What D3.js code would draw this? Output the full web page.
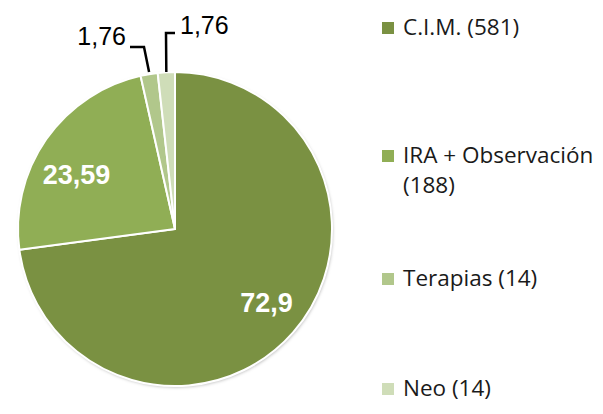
<!DOCTYPE html>
<html><head><meta charset="utf-8">
<script src="https://cdn.jsdelivr.net/npm/d3@7"></script>
<style>body{margin:0;background:#fff}svg{display:block}</style>
</head><body>
<svg id="c" width="603" height="414"></svg>
<script>
const categories = ["C.I.M. (581)", "IRA + Observación (188)", "Terapias (14)", "Neo (14)"];
const legendLines = [["C.I.M. (581)"], ["IRA + Observación", "(188)"], ["Terapias (14)"], ["Neo (14)"]];
const values = [72.9, 23.59, 1.76, 1.76];
const valueLabels = ["72,9", "23,59", "1,76", "1,76"];
const colors = ["#7a9142", "#90ae55", "#b1c78b", "#cfddb8"];

const svg = d3.select("#c");
const cx = 175, cy = 229, r = 157;
const pie = d3.pie().sort(null).value(d => d)(values);
const arc = d3.arc().innerRadius(0).outerRadius(r);

const defs = svg.append("defs");
const f = defs.append("filter").attr("id","sh").attr("x","-10%").attr("y","-10%").attr("width","120%").attr("height","120%");
f.append("feDropShadow").attr("dx",1).attr("dy",1.5).attr("stdDeviation",1.5).attr("flood-color","#000").attr("flood-opacity",0.25);

const g = svg.append("g").attr("transform", `translate(${cx},${cy})`);
g.append("circle").attr("r", r).attr("fill","#fff").attr("filter","url(#sh)");
g.selectAll("path.s").data(pie).join("path").attr("class","s")
  .attr("d", arc).attr("fill", (d,i) => colors[i])
  .attr("stroke","#fff").attr("stroke-width",2).attr("stroke-linejoin","round");

// inside labels
const inPos = [[91.5, 83], [-98.5, -45]];
[0,1].forEach(i => {
  g.append("text").attr("x", inPos[i][0]).attr("y", inPos[i][1])
    .attr("text-anchor","middle").attr("font-family","Liberation Sans, Arial, sans-serif")
    .attr("font-weight","bold").attr("font-size",27).attr("fill","#fff").text(valueLabels[i]);
});

// outside labels with leader lines
const outArc = d3.arc().innerRadius(r).outerRadius(r);
const small = [
  {i:2, elbow:[-31,-182], end:[-45,-182], tx:[-49,-184], anchor:"end"},
  {i:3, elbow:[-9,-196], end:[0,-196], tx:[5,-195], anchor:"start"}
];
small.forEach(s => {
  const p = outArc.centroid(pie[s.i]);
  g.append("path").attr("d", d3.line()([[p[0], -r], s.elbow, s.end]))
    .attr("fill","none").attr("stroke","#000").attr("stroke-width",2.5);
  g.append("text").attr("x", s.tx[0]).attr("y", s.tx[1]).attr("text-anchor", s.anchor)
    .attr("font-family","Liberation Sans, Arial, sans-serif").attr("font-size",25)
    .attr("fill","#000").text(valueLabels[s.i]);
});

// legend
const legendRowY = [28, 156, 279, 389];
const lg = svg.append("g").attr("transform","translate(382,0)");
categories.forEach((c,i) => {
  const row = lg.append("g").attr("transform", `translate(0,${legendRowY[i]})`);
  row.append("rect").attr("x",0).attr("y",-6).attr("width",12).attr("height",12).attr("fill",colors[i]);
  const t = row.append("text").attr("x",21).attr("y",7)
    .attr("font-family","Open Sans, sans-serif").attr("font-size",22.5).attr("fill","#1a1a1a");
  legendLines[i].forEach((ln,j) => t.append("tspan").attr("x",21).attr("dy", j===0?0:30).text(ln));
});
</script>
</body></html>
